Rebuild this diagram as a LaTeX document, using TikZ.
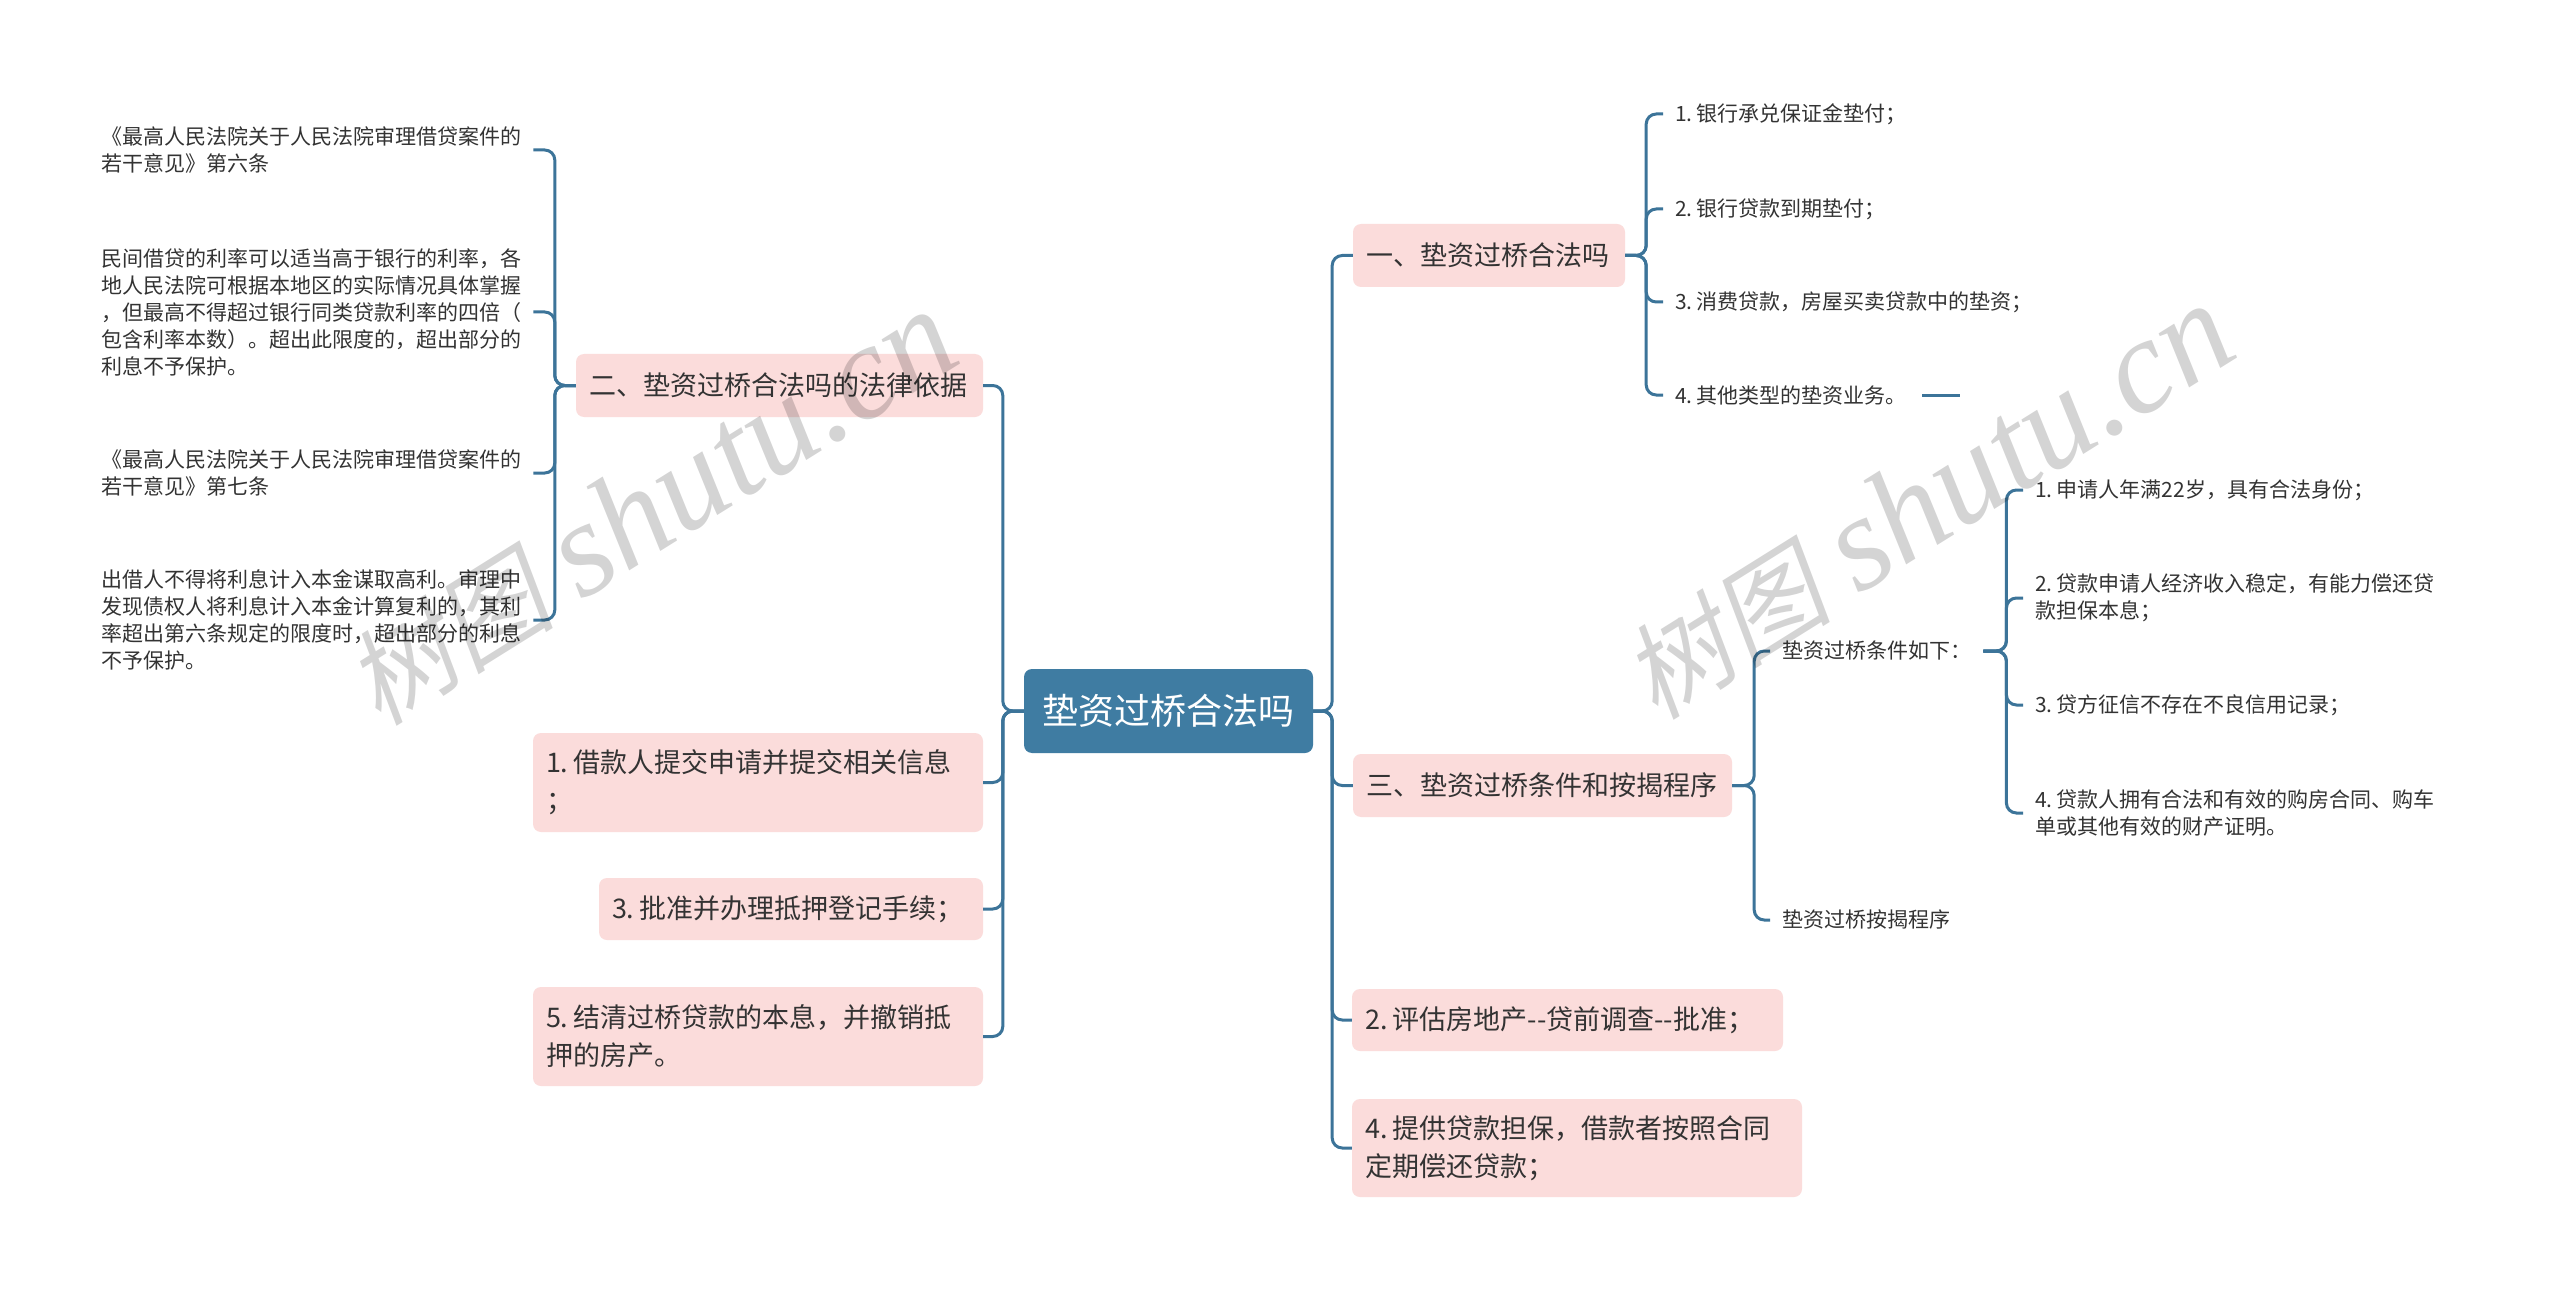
\documentclass[tikz,border=0pt]{standalone}
\usepackage{fontspec}
\setmainfont{Noto Sans CJK SC}
\newfontfamily\wmcjk[FakeSlant=0.2]{Noto Sans CJK SC}
\newfontfamily\wmlat{Liberation Serif Italic}
\definecolor{linec}{HTML}{3C7499}
\definecolor{rootc}{HTML}{3F7CA2}
\definecolor{pinkc}{HTML}{FBDCDB}
\definecolor{txtc}{HTML}{333333}
\newcommand\dd{\mbox{-}\mbox{-}}
\newcommand\gap{\hspace{0.2em}}
\begin{document}
\begin{tikzpicture}[x=1pt,y=-1pt,
  conn/.style={draw=linec, line width=3pt, rounded corners=10pt},
  lone/.style={fill=pinkc, rounded corners=8pt, text=txtc, font=\fontsize{27}{38}\selectfont, inner xsep=13pt, inner ysep=0pt, align=left},
  leaf/.style={text=txtc, font=\fontsize{21}{27}\selectfont, inner xsep=12pt, inner ysep=0pt, align=left, anchor=west},
  wmark/.style={rotate=32, text=black, text opacity=0.17, inner sep=0pt}]
\useasboundingbox (0,0) rectangle (2560,1289);
\fill[white] (0,0) rectangle (2560,1289);

% root
\node[fill=rootc, rounded corners=8pt, text=white, font=\fontsize{36}{40}\selectfont, minimum width=289pt, minimum height=84pt, inner sep=0pt] (root) at (1168.5,711) {垫资过桥合法吗};

% left level 1
\node[lone, text width=381pt, minimum height=63pt] (n2) at (779.5,385.5) {二、垫资过桥合法吗的法律依据};
\node[lone, text width=424pt, minimum height=99pt] (nL1) at (758,782.5) {1.\gap 借款人提交申请并提交相关信息\\；};
\node[lone, text width=358pt, minimum height=62pt] (nL3) at (791,909) {\mbox{3.\gap 批准并办理抵押登记手续；}};
\node[lone, text width=424pt, minimum height=99pt] (nL5) at (758,1036.5) {5.\gap 结清过桥贷款的本息，并撤销抵\\押的房产。};

% right level 1
\node[lone, text width=246pt, minimum height=63pt] (n1) at (1489,255.5) {一、垫资过桥合法吗};
\node[lone, text width=353pt, minimum height=63pt] (n3) at (1542.5,785.5) {三、垫资过桥条件和按揭程序};
\node[lone, text width=405pt, minimum height=62pt] (nR2) at (1567.5,1020) {\mbox{2.\gap 评估房地产\dd 贷前调查\dd 批准；}};
\node[lone, text width=424pt, minimum height=98pt] (nR4) at (1577,1148) {4.\gap 提供贷款担保，借款者按照合同\\定期偿还贷款；};

% left leaves
\node[leaf] (a1) at (89,150) {《最高人民法院关于人民法院审理借贷案件的\\若干意见》第六条};
\node[leaf] (a2) at (89,312) {民间借贷的利率可以适当高于银行的利率，各\\地人民法院可根据本地区的实际情况具体掌握\\，但最高不得超过银行同类贷款利率的四倍（\\包含利率本数）。超出此限度的，超出部分的\\利息不予保护。};
\node[leaf] (a3) at (89,473) {《最高人民法院关于人民法院审理借贷案件的\\若干意见》第七条};
\node[leaf] (a4) at (89,620) {出借人不得将利息计入本金谋取高利。审理中\\发现债权人将利息计入本金计算复利的，其利\\率超出第六条规定的限度时，超出部分的利息\\不予保护。};

% right leaves of n1
\node[leaf] (b1) at (1663,114) {1.\gap 银行承兑保证金垫付；};
\node[leaf] (b2) at (1663,209) {2.\gap 银行贷款到期垫付；};
\node[leaf] (b3) at (1663,302) {3.\gap 消费贷款，房屋买卖贷款中的垫资；};
\node[leaf] (b4) at (1663,395) {4.\gap 其他类型的垫资业务。};
\coordinate (b4tail) at (1960,395);

% children of n3
\node[leaf] (c1) at (1770,651) {垫资过桥条件如下：};
\node[leaf] (c2) at (1770,920) {垫资过桥按揭程序};

% children of c1
\node[leaf] (d1) at (2023,490) {1.\gap 申请人年满22岁，具有合法身份；};
\node[leaf] (d2) at (2023,598) {2.\gap 贷款申请人经济收入稳定，有能力偿还贷\\款担保本息；};
\node[leaf] (d3) at (2023,705) {3.\gap 贷方征信不存在不良信用记录；};
\node[leaf] (d4) at (2023,813) {4.\gap 贷款人拥有合法和有效的购房合同、购车\\单或其他有效的财产证明。};

% connectors
\foreach \c in {n2,nL1,nL3,nL5} \draw[conn] (root.west) -- ++(-21,0) |- (\c.east);
\foreach \c in {n1,n3,nR2,nR4} \draw[conn] (root.east) -- ++(19,0) |- (\c.west);
\foreach \c in {a1,a2,a3,a4} \draw[conn] (n2.west) -- ++(-21,0) |- (\c.east);
\foreach \c in {b1,b2,b3,b4} \draw[conn] (n1.east) -- ++(21,0) |- (\c.west);
\foreach \c in {c1,c2} \draw[conn] (n3.east) -- ++(22,0) |- (\c.west);
\foreach \c in {d1,d2,d3,d4} \draw[conn] (c1.east) -- ++(23,0) |- (\c.west);
\draw[draw=linec, line width=3pt] ([xshift=3pt]b4.east) -- (b4tail);

% watermarks
\node[wmark] (wm1) at (650,508) {{\wmcjk\fontsize{105}{105}\selectfont 树图}\hspace{28pt}{\wmlat\fontsize{135}{135}\selectfont shutu.cn}};
\node[wmark] (wm2) at (1927,502) {{\wmcjk\fontsize{105}{105}\selectfont 树图}\hspace{28pt}{\wmlat\fontsize{135}{135}\selectfont shutu.cn}};
\end{tikzpicture}
\end{document}
